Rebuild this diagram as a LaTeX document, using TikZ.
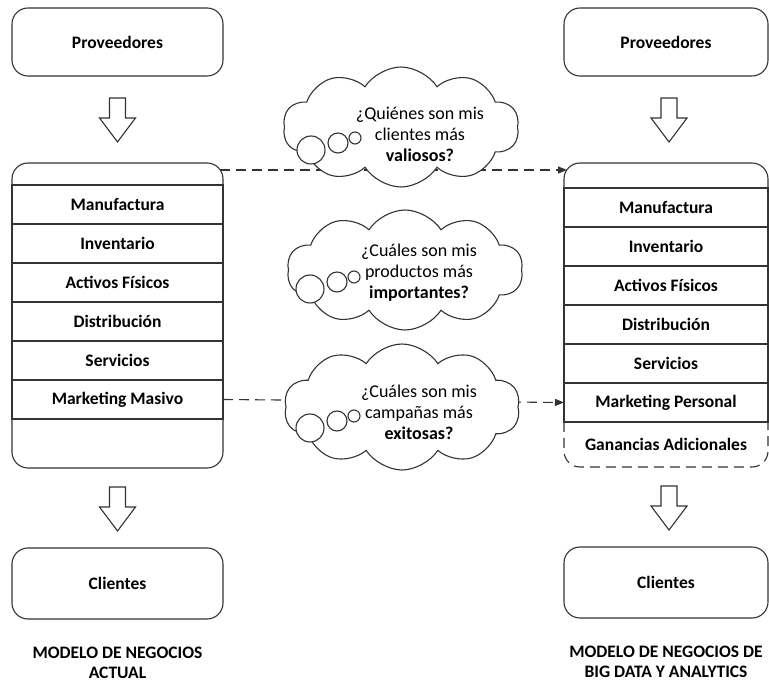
\documentclass[tikz,border=0pt]{standalone}
\usepackage{fontspec}
\setmainfont{Carlito}
\usepackage{tikz}
\usetikzlibrary{arrows.meta, positioning, calc, shapes.symbols}

\tikzset{
	flecha/.pic={\draw[line width=1.1pt, draw=black!80, fill=white] (-8,0) -- (8,0) -- (8,20) -- (18,20) -- (0,44) -- (-18,20) -- (-8,20) -- cycle;}
}

\begin{document}
\begin{tikzpicture}[
		x=1pt, y=-1pt,
		caja/.style={rectangle, draw=black!80, line width=1.1pt, rounded corners=16pt, outer sep=0pt, align=center, font=\fontsize{17.5}{21}\selectfont\bfseries},
		fila/.style={rectangle, draw=black!80, line width=1.1pt, outer sep=0pt, minimum height=39pt, font=\fontsize{17.5}{21}\selectfont\bfseries},
		nube/.style={cloud, cloud puffs=10, cloud puff arc=115, aspect=2, draw=black!80, line width=1.1pt, fill=white, minimum width=236pt, minimum height=120pt},
		pregunta/.style={align=center, font=\fontsize{18}{21}\selectfont},
		burbuja/.style={circle, draw=black!80, line width=1.1pt, fill=white, inner sep=0pt},
		titulo/.style={align=center, font=\fontsize{17.5}{20}\selectfont\bfseries},
		enlace/.style={-{Triangle[length=9pt, width=7pt]}, draw=black!80, line width=1.1pt, dash pattern=on 10pt off 6pt}
		]
		\useasboundingbox (0,0) rectangle (769,684);
		
		% Modelo actual
		\node[caja, minimum width=211pt, minimum height=68pt] (provA) at (117.5,42) {Proveedores};
		\node[caja, minimum width=211pt, minimum height=305pt, below=87pt of provA] (actual) {};
		\node[fila, minimum width=211pt, below=22pt of actual.north] (manA) {Manufactura};
		\node[fila, minimum width=211pt, below=0pt of manA] (invA) {Inventario};
		\node[fila, minimum width=211pt, below=0pt of invA] (actA) {Activos Físicos};
		\node[fila, minimum width=211pt, below=0pt of actA] (disA) {Distribución};
		\node[fila, minimum width=211pt, below=0pt of disA] (serA) {Servicios};
		\node[fila, minimum width=211pt, below=0pt of serA] (mktA) {Marketing Masivo};
		\node[caja, minimum width=211pt, minimum height=71pt, below=80pt of actual] (cliA) {Clientes};
		\node[titulo, below=24pt of cliA] (tituloA) {MODELO DE NEGOCIOS\\ACTUAL};
		\pic at ($(provA.south)+(0,22)$) {flecha};
		\pic at ($(actual.south)+(0,19)$) {flecha};
		
		% Modelo de big data
		\node[caja, minimum width=204pt, minimum height=68pt] (provB) at (666,42) {Proveedores};
		\node[minimum width=204pt, minimum height=304pt, outer sep=0pt, below=87pt of provB] (bigdata) {};
		\node[fila, minimum width=204pt, below=25pt of bigdata.north] (manB) {Manufactura};
		\node[fila, minimum width=204pt, below=0pt of manB] (invB) {Inventario};
		\node[fila, minimum width=204pt, below=0pt of invB] (actB) {Activos Físicos};
		\node[fila, minimum width=204pt, below=0pt of actB] (disB) {Distribución};
		\node[fila, minimum width=204pt, below=0pt of disB] (serB) {Servicios};
		\node[fila, minimum width=204pt, below=0pt of serB] (mktB) {Marketing Personal};
		\node[fila, draw=none, minimum width=204pt, minimum height=45pt, below=0pt of mktB] (ganB) {Ganancias Adicionales};
		\draw[line width=1.1pt, draw=black!80, rounded corners=16pt] (mktB.south west) -- (bigdata.north west) -- (bigdata.north east) -- (mktB.south east);
		\draw[line width=1.1pt, draw=black!80, rounded corners=16pt, dash pattern=on 10pt off 6pt] (mktB.south west) -- (bigdata.south west) -- (bigdata.south east) -- (mktB.south east);
		\node[caja, minimum width=204pt, minimum height=71pt, below=80pt of bigdata] (cliB) {Clientes};
		\node[titulo, below=24pt of cliB] (tituloB) {MODELO DE NEGOCIOS DE\\BIG DATA Y ANALYTICS};
		\pic at ($(provB.south)+(3,22)$) {flecha};
		\pic at ($(bigdata.south)+(3,19)$) {flecha};
		
		% Enlaces
		\draw[enlace] ($(actual.north east)+(-3,7)$) -- ($(bigdata.north west)+(3,7)$);
		\draw[enlace] (mktA.east) -- (mktB.west);
		
		% Preguntas
		\node[nube] (nube1) at (401,127) {};
		\node[nube] (nube2) at (405,270) {};
		\node[nube, minimum height=126pt] (nube3) at (402,407) {};
		\node[pregunta] (q1) at (420,134) {¿Quiénes son mis\\clientes más\\\textbf{valiosos?}};
		\node[pregunta] (q2) at (419,273) {¿Cuáles son mis\\productos más\\\textbf{importantes?}};
		\node[pregunta] (q3) at (419,412) {¿Cuáles son mis\\campañas más\\\textbf{exitosas?}};
		\foreach \q in {1,2,3} {
			\node[burbuja, minimum size=28pt] (bg\q) at ($(q\q)+(-109,16)$) {};
			\node[burbuja, minimum size=20pt] (bm\q) at ($(q\q)+(-82,9)$) {};
			\node[burbuja, minimum size=12pt] (bp\q) at ($(q\q)+(-65,4)$) {};
		}
		
	\end{tikzpicture}
\end{document}
